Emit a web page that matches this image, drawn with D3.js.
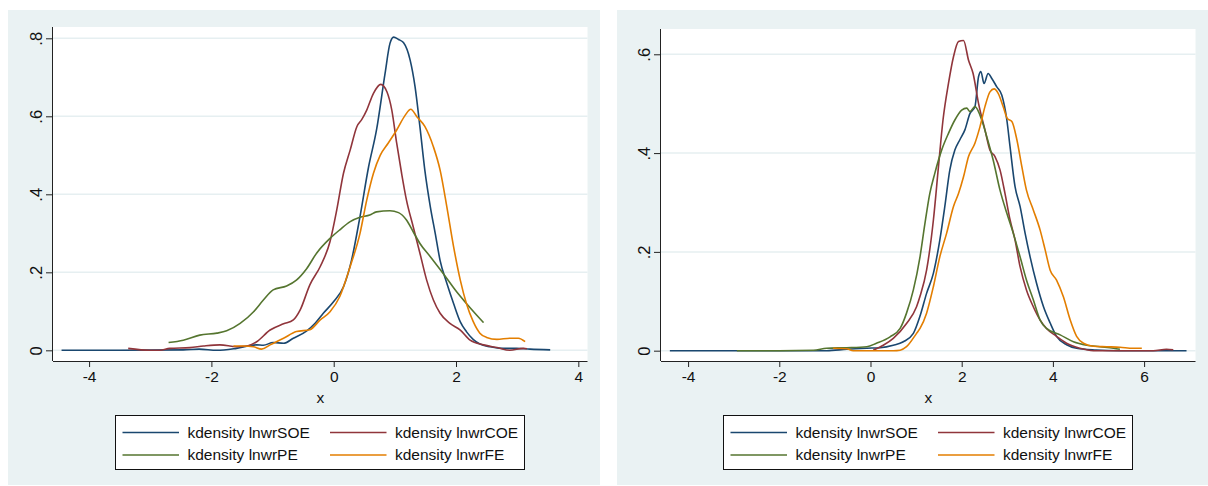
<!DOCTYPE html>
<html>
<head>
<meta charset="utf-8">
<script src="https://cdn.jsdelivr.net/npm/d3@7"></script>
<style>
  body { margin: 0; background: #fff; }
  svg { display: block; font-family: "Liberation Sans", Arial, sans-serif; }
</style>
</head>
<body>
<div id="wrapper"></div>
<script>
// series names and legend labels
const seriesNames = ["SOE", "COE", "PE", "FE"]
const legendLabels = ["kdensity lnwrSOE", "kdensity lnwrCOE", "kdensity lnwrPE", "kdensity lnwrFE"]
const seriesColors = ["#1a476f", "#90353b", "#55752f", "#e37e00"]

// tick values
const leftXTicks = [-4, -2, 0, 2, 4]
const leftYTicks = [0, 0.2, 0.4, 0.6, 0.8]
const rightXTicks = [-4, -2, 0, 2, 4, 6]
const rightYTicks = [0, 0.2, 0.4, 0.6]

// left panel: density curves [x, density]
const leftSOE = [[-4.45,0],[-3.5,0],[-2.46,0.001],[-2.2,0.003],[-1.91,0],[-1.59,0.005],[-1.26,0.014],[-1.15,0.013],
  [-0.99,0.02],[-0.82,0.018],[-0.66,0.031],[-0.44,0.05],[-0.3,0.07],[-0.17,0.095],[0,0.125],[0.16,0.163],[0.29,0.23],
  [0.43,0.343],[0.57,0.47],[0.7,0.565],[0.84,0.71],[0.92,0.787],[0.98,0.803],[1.06,0.797],[1.14,0.789],[1.25,0.744],
  [1.33,0.676],[1.41,0.573],[1.49,0.462],[1.58,0.368],[1.66,0.3],[1.74,0.23],[1.85,0.172],[1.96,0.12],[2.07,0.073],
  [2.17,0.048],[2.28,0.028],[2.39,0.016],[2.56,0.009],[2.77,0.005],[2.99,0.005],[3.21,0.003],[3.54,0.001]]
const leftCOE = [[-3.36,0.005],[-3.0,0],[-2.84,0],[-2.68,0.005],[-2.35,0.007],[-2.13,0.011],[-1.86,0.014],[-1.59,0.009],
  [-1.42,0.011],[-1.26,0.022],[-1.04,0.052],[-0.82,0.068],[-0.66,0.078],[-0.55,0.103],[-0.39,0.168],[-0.22,0.215],
  [-0.06,0.279],[0.05,0.36],[0.16,0.454],[0.27,0.514],[0.38,0.574],[0.46,0.592],[0.54,0.616],[0.65,0.659],[0.77,0.682],
  [0.87,0.663],[0.95,0.616],[1.03,0.531],[1.11,0.454],[1.19,0.385],[1.3,0.317],[1.41,0.249],[1.52,0.18],[1.63,0.129],
  [1.74,0.095],[1.9,0.069],[2.07,0.052],[2.23,0.026],[2.45,0.014],[2.67,0.007],[2.88,0],[3.1,0.005],[3.16,0.004]]
const leftPE = [[-2.7,0.02],[-2.46,0.026],[-2.19,0.039],[-1.91,0.044],[-1.75,0.05],[-1.53,0.069],[-1.31,0.099],
  [-1.15,0.129],[-0.99,0.155],[-0.77,0.165],[-0.61,0.18],[-0.44,0.21],[-0.28,0.249],[-0.06,0.287],[0.1,0.309],
  [0.27,0.33],[0.43,0.341],[0.59,0.347],[0.7,0.355],[0.92,0.358],[1.06,0.353],[1.19,0.334],[1.3,0.304],[1.41,0.274],
  [1.58,0.24],[1.79,0.197],[2.01,0.15],[2.17,0.12],[2.31,0.095],[2.45,0.071]]
const leftFE = [[-1.64,0.011],[-1.48,0.011],[-1.31,0.009],[-1.18,0.003],[-1.04,0.014],[-0.82,0.031],[-0.61,0.048],
  [-0.39,0.053],[-0.22,0.078],[-0.06,0.099],[0.1,0.138],[0.27,0.215],[0.43,0.3],[0.54,0.385],[0.65,0.454],[0.76,0.5],
  [0.89,0.531],[1.03,0.565],[1.17,0.603],[1.26,0.618],[1.36,0.599],[1.49,0.574],[1.63,0.522],[1.74,0.462],[1.85,0.368],
  [1.96,0.266],[2.07,0.18],[2.17,0.12],[2.28,0.074],[2.39,0.044],[2.5,0.033],[2.67,0.028],[2.88,0.031],[3.02,0.031],[3.13,0.022]]

// right panel: density curves [x, density]
const rightSOE = [[-4.4,0],[-3.0,0],[-1.5,0],[-0.96,0],[-0.52,0.003],[-0.08,0.005],[0.21,0.006],[0.5,0.011],[0.72,0.018],
  [0.94,0.035],[1.086,0.07],[1.23,0.116],[1.38,0.157],[1.52,0.224],[1.63,0.292],[1.74,0.366],[1.85,0.406],[1.96,0.427],
  [2.07,0.447],[2.18,0.48],[2.29,0.494],[2.37,0.555],[2.42,0.565],[2.49,0.541],[2.58,0.561],[2.66,0.551],[2.77,0.534],
  [2.88,0.517],[2.99,0.467],[3.06,0.413],[3.17,0.332],[3.28,0.292],[3.39,0.238],[3.5,0.19],[3.64,0.137],[3.79,0.09],
  [3.94,0.056],[4.08,0.029],[4.3,0.012],[4.52,0.005],[4.95,0.0015],[5.47,0],[6.2,0],[6.93,0]]
const rightCOE = [[0.06,0.001],[0.28,0.011],[0.5,0.025],[0.79,0.055],[1.01,0.089],[1.086,0.11],[1.23,0.163],[1.38,0.265],
  [1.49,0.372],[1.59,0.467],[1.71,0.541],[1.82,0.595],[1.93,0.626],[2.04,0.628],[2.15,0.588],[2.25,0.561],[2.37,0.5],
  [2.51,0.447],[2.62,0.406],[2.73,0.393],[2.84,0.366],[2.95,0.318],[3.06,0.265],[3.17,0.224],[3.28,0.17],[3.42,0.123],
  [3.57,0.089],[3.72,0.062],[3.86,0.045],[4.08,0.029],[4.3,0.015],[4.59,0.005],[4.89,0],[5.47,0],[6.2,0],[6.49,0.003],[6.64,0.002]]
const rightPE = [[-2.93,0],[-2.0,0],[-1.25,0.001],[-0.96,0.005],[-0.52,0.006],[-0.08,0.008],[0.13,0.015],[0.43,0.028],
  [0.65,0.045],[0.79,0.076],[0.94,0.123],[1.086,0.19],[1.19,0.255],[1.3,0.318],[1.41,0.359],[1.56,0.406],[1.71,0.44],
  [1.85,0.467],[2.0,0.487],[2.11,0.491],[2.18,0.484],[2.29,0.494],[2.44,0.467],[2.55,0.433],[2.69,0.386],[2.84,0.325],
  [2.99,0.278],[3.13,0.238],[3.28,0.19],[3.42,0.143],[3.57,0.103],[3.72,0.062],[3.86,0.045],[4.16,0.032],[4.45,0.018],
  [4.74,0.011],[5.03,0.008],[5.33,0.005],[5.47,0.003]]
const rightFE = [[-0.82,0.005],[-0.52,0.004],[-0.38,0],[0.5,0],[0.65,0.001],[0.79,0.008],[1.01,0.035],[1.086,0.045],
  [1.23,0.076],[1.38,0.13],[1.52,0.19],[1.67,0.238],[1.82,0.292],[1.93,0.318],[2.04,0.352],[2.15,0.393],[2.29,0.42],
  [2.4,0.453],[2.51,0.494],[2.62,0.524],[2.71,0.53],[2.8,0.521],[2.91,0.494],[3.0,0.47],[3.1,0.464],[3.21,0.427],
  [3.32,0.372],[3.42,0.325],[3.57,0.285],[3.72,0.244],[3.83,0.204],[3.94,0.163],[4.08,0.143],[4.23,0.109],[4.38,0.062],
  [4.52,0.029],[4.67,0.015],[4.89,0.009],[5.18,0.008],[5.47,0.007],[5.76,0.005],[5.95,0.005]]

async function drawCharts() {
  // 1. chart dimensions
  const width = 1208
  const height = 486

  const panels = [
    {
      offsetX: 0,
      bg: { x: 8, y: 10, width: 592, height: 475 },
      plot: { left: 53, right: 587.5, top: 27, bottom: 361 },
      xDomain: [-4.59, 4.15],
      yDomain: [-0.0274, 0.829],
      xTicks: leftXTicks,
      yTicks: leftYTicks,
      series: [leftSOE, leftCOE, leftPE, leftFE]
    },
    {
      offsetX: 608,
      bg: { x: 9, y: 10, width: 600, height: 475 },
      plot: { left: 53, right: 587.5, top: 29, bottom: 361 },
      xDomain: [-4.594, 7.127],
      yDomain: [-0.0209, 0.6512],
      xTicks: rightXTicks,
      yTicks: rightYTicks,
      series: [rightSOE, rightCOE, rightPE, rightFE]
    }
  ]

  // 2. draw canvas
  const wrapper = d3.select("#wrapper")
    .append("svg")
      .attr("width", width)
      .attr("height", height)

  const tickFormat = d => d === 0 ? "0" : d3.format(".1f")(d).replace(/^0/, "")

  panels.forEach(panel => {
    const g = wrapper.append("g")
      .attr("transform", `translate(${panel.offsetX},0)`)

    // graph region
    g.append("rect")
      .attr("x", panel.bg.x)
      .attr("y", panel.bg.y)
      .attr("width", panel.bg.width)
      .attr("height", panel.bg.height)
      .attr("fill", "#eaf2f3")

    const p = panel.plot
    g.append("rect")
      .attr("x", p.left)
      .attr("y", p.top)
      .attr("width", p.right - p.left)
      .attr("height", p.bottom - p.top)
      .attr("fill", "#ffffff")

    // 3. scales
    const xScale = d3.scaleLinear()
      .domain(panel.xDomain)
      .range([p.left, p.right])
    const yScale = d3.scaleLinear()
      .domain(panel.yDomain)
      .range([p.bottom, p.top])

    // gridlines
    g.append("g")
      .selectAll("line")
      .data(panel.yTicks)
      .join("line")
        .attr("x1", p.left)
        .attr("x2", p.right)
        .attr("y1", d => yScale(d))
        .attr("y2", d => yScale(d))
        .attr("stroke", "#e6eff1")
        .attr("stroke-width", 1.5)

    // 4. draw data
    const lineGenerator = d3.line()
      .x(d => xScale(d[0]))
      .y(d => yScale(d[1]))
      .curve(d3.curveMonotoneX)

    panel.series.forEach((s, i) => {
      g.append("path")
        .datum(s)
        .attr("d", lineGenerator)
        .attr("fill", "none")
        .attr("stroke", seriesColors[i])
        .attr("stroke-width", 1.6)
        .attr("stroke-linejoin", "round")
    })

    // 5. axes
    const xAxisGenerator = d3.axisBottom(xScale)
      .tickValues(panel.xTicks)
      .tickSize(6)
      .tickPadding(4)
      .tickFormat(d3.format("d"))
    const xAxis = g.append("g")
      .attr("transform", `translate(0,${p.bottom})`)
      .call(xAxisGenerator)
    xAxis.select(".domain").attr("stroke", "#222").attr("d", `M${p.left},0.5H${p.right}`)
    xAxis.selectAll(".tick line").attr("stroke", "#222")
    xAxis.selectAll(".tick text")
      .attr("font-size", 15.5)
      .attr("fill", "#111")
      .attr("font-family", "'Liberation Sans', Arial, sans-serif")
      .text(d => d < 0 ? "-" + Math.abs(d) : d)

    const yAxisGenerator = d3.axisLeft(yScale)
      .tickValues(panel.yTicks)
      .tickSize(7)
      .tickFormat(tickFormat)
    const yAxis = g.append("g")
      .attr("transform", `translate(${p.left},0)`)
      .call(yAxisGenerator)
    yAxis.select(".domain").attr("stroke", "#222").attr("d", `M-0.5,${p.top}V${p.bottom}`)
    yAxis.selectAll(".tick line").attr("stroke", "#222")
    yAxis.selectAll(".tick text")
      .attr("font-size", 16.5)
      .attr("fill", "#111")
      .attr("font-family", "'Liberation Sans', Arial, sans-serif")
      .attr("x", null)
      .attr("dy", null)
      .attr("text-anchor", "middle")
      .attr("transform", "translate(-11.5,0) rotate(-90)")

    // axis title
    g.append("text")
      .attr("x", (p.left + p.right) / 2)
      .attr("y", 403)
      .attr("text-anchor", "middle")
      .attr("font-size", 15.5)
      .attr("fill", "#111")
      .text("x")

    // 6. legend
    const legend = g.append("g")
    legend.append("rect")
      .attr("x", 115.5)
      .attr("y", 415.5)
      .attr("width", 409)
      .attr("height", 54)
      .attr("fill", "#fff")
      .attr("stroke", "#111")
      .attr("stroke-width", 1)

    const legendItems = legend.selectAll(".item")
      .data(legendLabels)
      .join("g")
        .attr("class", "item")
        .attr("transform", (d, i) => `translate(${i % 2 === 0 ? 122.5 : 330},${i < 2 ? 432.5 : 455})`)
    legendItems.append("line")
      .attr("x1", 0)
      .attr("x2", 56.5)
      .attr("stroke", (d, i) => seriesColors[i])
      .attr("stroke-width", 1.6)
    legendItems.append("text")
      .attr("x", 65)
      .attr("dy", "0.35em")
      .attr("font-size", 15.5)
      .attr("fill", "#111")
      .text(d => d)
  })
}

drawCharts()
</script>
</body>
</html>
